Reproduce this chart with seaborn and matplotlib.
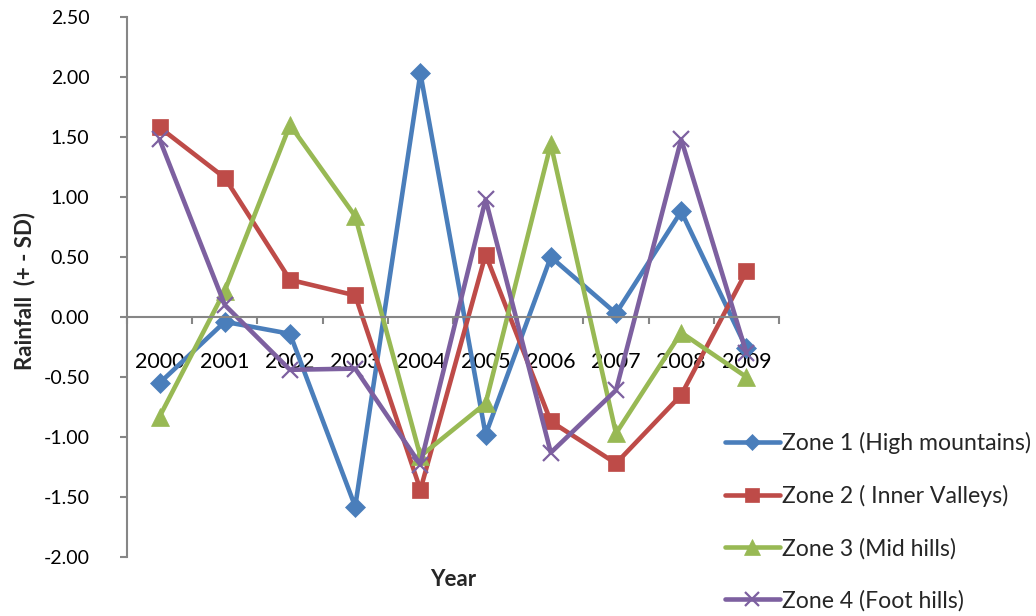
import matplotlib
matplotlib.use("Agg")
import matplotlib.pyplot as plt
import seaborn as sns
import pandas as pd
import numpy as np
from matplotlib.lines import Line2D

years = ["2000", "2001", "2002", "2003", "2004", "2005", "2006", "2007", "2008", "2009"]
zone1 = [-0.55, -0.04, -0.14, -1.58, 2.03, -0.98, 0.50, 0.03, 0.88, -0.26]
zone2 = [1.58, 1.16, 0.31, 0.18, -1.44, 0.52, -0.87, -1.22, -0.65, 0.38]
zone3 = [-0.83, 0.22, 1.60, 0.84, -1.16, -0.72, 1.44, -0.97, -0.13, -0.50]
zone4 = [1.48, 0.10, -0.44, -0.43, -1.23, 0.98, -1.13, -0.61, 1.48, -0.30]
names = ["Zone 1 (High mountains)", "Zone 2 ( Inner Valleys)", "Zone 3 (Mid hills)", "Zone 4 (Foot hills)"]
colors = ["#4A7EBB", "#BE4B48", "#98B954", "#7D60A0"]
markers = ["D", "s", "^", "x"]
msizes = [10, 12, 13.5, 12]
mews = [0.5, 0.5, 0.5, 1.6]

sns.set_theme(style="white")
plt.rcParams['font.family'] = ['Lato', 'DejaVu Sans']

fig = plt.figure(figsize=(10.36, 6.16), dpi=100)
ax = fig.add_axes([127/1036, 1-557/616, 652/1036, 540/616])

pos = np.arange(len(years))
for vals, name, c, m, ms, mw in zip([zone1, zone2, zone3, zone4], names, colors, markers, msizes, mews):
    df = pd.DataFrame({"x": pos, "y": vals})
    sns.lineplot(data=df, x="x", y="y", ax=ax, color=c, linewidth=3.3, marker=m,
                 markersize=ms, markeredgewidth=mw, markeredgecolor=c, markerfacecolor=c,
                 label=name, legend=False)

ax.set_xlim(-0.5, len(years) - 0.5)
ax.set_ylim(-2.0, 2.5)
ax.set_yticks(np.arange(-2.0, 2.51, 0.5))
ax.set_yticklabels([f"{v:.2f}" for v in np.arange(-2.0, 2.51, 0.5)])
ax.set_xticks(pos)
ax.set_xticklabels(years)
ax.set_xticks(np.arange(-0.5, len(years), 1.0), minor=True)

for s in ["top", "right"]:
    ax.spines[s].set_visible(False)
ax.spines["bottom"].set_position(("data", 0))
for s in ["left", "bottom"]:
    ax.spines[s].set_color("#868686")
    ax.spines[s].set_linewidth(1.5)

ax.tick_params(axis="y", which="major", direction="out", length=5, width=1.5, color="#868686",
               labelsize=14, pad=22, left=True, labelcolor="black")
ax.tick_params(axis="x", which="major", length=0, labelsize=15.5, pad=25, labelcolor="black")
ax.tick_params(axis="x", which="minor", direction="out", length=5, width=1.5, color="#868686", bottom=True)

ax.set_xlabel("Year", fontsize=16, fontweight="bold")
ax.xaxis.set_label_coords(0.5, -0.022)
ax.set_ylabel("Rainfall  (+ - SD)", fontsize=16, fontweight="bold")
ax.yaxis.set_label_coords(-0.14, 0.493)
ax.grid(False)

handles = [Line2D([0], [0], color=c, lw=3.3, marker=m, markersize=ms * 0.85, markeredgewidth=mw,
                  markeredgecolor=c, markerfacecolor=c)
           for c, m, ms, mw in zip(colors, markers, msizes, mews)]
fig.legend(handles, names, loc="lower left", bbox_to_anchor=(720/1036, 0.0), frameon=False,
           fontsize=16.6, handlelength=2.4, labelspacing=1.33, handletextpad=0.1,
           borderaxespad=0.0, borderpad=0.2)

fig.savefig("out.png", dpi=100)
